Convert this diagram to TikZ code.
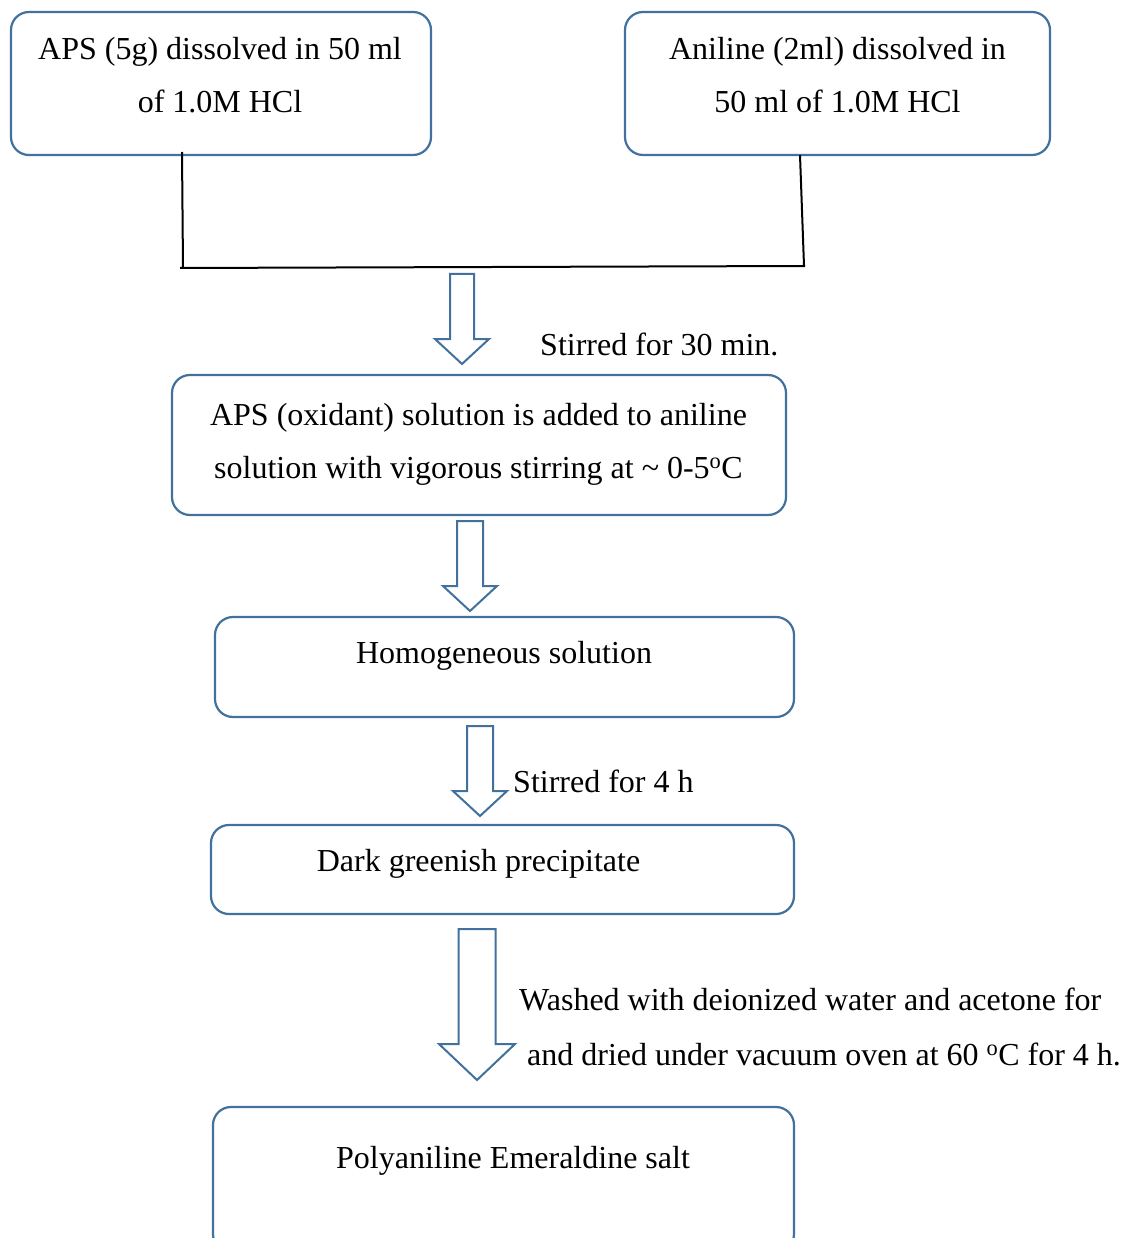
\documentclass[tikz,border=0pt]{standalone}
\usepackage{fontspec}
\setmainfont{Liberation Serif}
\usetikzlibrary{calc}
\definecolor{boxblue}{RGB}{65,113,156}
\tikzset{
  flowbox/.style={draw=boxblue, line width=2.2pt, rounded corners=18pt, inner sep=0pt, outer sep=0pt},
  txt/.style={font=\fontsize{32}{53}\selectfont, align=center, inner sep=0pt, anchor=base},
  sidetxt/.style={font=\fontsize{32}{55}\selectfont, align=left, inner sep=0pt, anchor=base west},
  joinline/.style={draw=black, line width=2pt},
  blockarr/.style={draw=boxblue, line width=2pt, fill=white, line join=miter}
}
\newcommand\blockarrow[5]{% top, tip, shaft half width, head half width, head length
  \draw[blockarr] ($(#1)+(-#3,0)$) -- ($(#2)+(-#3,-#5)$) -- ($(#2)+(-#4,-#5)$) -- (#2)
    -- ($(#2)+(#4,-#5)$) -- ($(#2)+(#3,-#5)$) -- ($(#1)+(#3,0)$) -- cycle;}
\begin{document}
\begin{tikzpicture}[x=1pt, y=-1pt]
\clip (0,0) rectangle (1124,1238);
\fill[white] (0,0) rectangle (1124,1238);

% boxes
\node[flowbox, minimum width=420, minimum height=143] (aps) at (221,83.5) {};
\node[flowbox, minimum width=425, minimum height=143] (ani) at (837.5,83.5) {};
\node[flowbox, minimum width=614, minimum height=140] (mix) at (479,445) {};
\node[flowbox, minimum width=579, minimum height=100] (homo) at (504.5,667) {};
\node[flowbox, minimum width=583, minimum height=89] (dark) at (502.5,869.5) {};
\node[flowbox, minimum width=581, minimum height=145] (pani) at (503.5,1179.5) {};

% box texts (base anchor = baseline of the last line)
\node[txt] (apsT) at (220,113) {APS (5g) dissolved in 50 ml\\of 1.0M HCl};
\node[txt] (aniT) at (837.5,113) {Aniline (2ml) dissolved in\\50 ml of 1.0M HCl};
\node[txt] (mixT) at (478.5,478) {APS (oxidant) solution is added to aniline\\solution with vigorous stirring at \textasciitilde{} 0-5\textsuperscript{o}C};
\node[txt] (homoT) at (504,663) {Homogeneous solution};
\node[txt] (darkT) at (478.5,871) {Dark greenish precipitate};
\node[txt] (paniT) at (513,1168) {Polyaniline Emeraldine salt};

% joining lines
\coordinate (j1) at (183,268);
\coordinate (j2) at (804,266);
\draw[joinline] ($(aps.south -| j1)+(-1,-3)$) -- (j1);
\draw[joinline] (ani.south -| 800,0) -- (j2);
\draw[joinline] ($(j1)+(-3,0)$) -- ($(j2)+(1,0)$);

% block arrows
\coordinate (a1top) at (462,274); \coordinate (a1tip) at (462,364);
\coordinate (a2top) at (470,521); \coordinate (a2tip) at (470,611);
\coordinate (a3top) at (480,726); \coordinate (a3tip) at (480,816);
\coordinate (a4top) at (477,929); \coordinate (a4tip) at (477,1080);
\blockarrow{a1top}{a1tip}{12}{27}{25}
\blockarrow{a2top}{a2tip}{13}{27}{25}
\blockarrow{a3top}{a3tip}{13}{27}{25}
\blockarrow{a4top}{a4tip}{18.5}{38}{36}

% side labels
\node[sidetxt] (l1) at (540,355) {Stirred for 30 min.};
\node[sidetxt] (l2) at (513,792) {Stirred for 4 h};
\node[sidetxt] (l3) at (519,1010) {Washed with deionized water and acetone for};
\node[sidetxt] (l4) at (527,1065) {and dried under vacuum oven at 60 \textsuperscript{o}C for 4 h.};
\end{tikzpicture}
\end{document}
